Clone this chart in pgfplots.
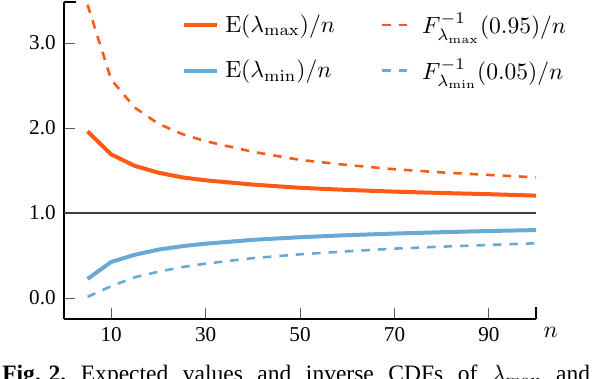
\documentclass[border=0pt]{standalone}
\usepackage[no-math]{fontspec}
\setmainfont{Liberation Serif}
\usepackage{pgfplots}
\pgfplotsset{compat=1.18}
\usetikzlibrary{calc}
\definecolor{maxorange}{RGB}{255,90,20}
\definecolor{minblue}{RGB}{104,170,212}

\begin{document}
\begin{tikzpicture}
\begin{axis}[
  name=ax,
  scale only axis,
  width=200.9pt, height=134.9pt,
  xmin=0, xmax=100, ymin=-0.247, ymax=3.482,
  axis x line*=bottom, axis y line*=left,
  axis line style={black, line width=0.85pt},
  tick align=inside,
  major tick length=4.6pt,
  tick style={black!65, line width=0.4pt},
  xtick={10,30,50,70,90},
  ytick={0,1,2,3},
  yticklabel style={/pgf/number format/.cd, fixed, fixed zerofill, precision=1},
  /pgf/number format/assume math mode=true,
  tick label style={font=\small},
  clip mode=individual,
  legend columns=2,
  legend cell align=left,
  legend image code/.code={\draw[#1] (0pt,0pt) -- (14pt,0pt);},
  legend style={draw=none, fill=none, inner sep=0pt,
    at={(rel axis cs:0.25,0.985)}, anchor=north west,
    row sep=4pt,
    nodes={inner sep=2.5pt},
    /tikz/every even column/.append style={column sep=17pt}},
]
\addplot[forget plot, black!75, line width=0.5pt] coordinates {(0,1) (100,1)};
\addplot[maxorange, line width=1.7pt, line join=round] coordinates {
  (5,1.96) (10,1.69) (15,1.555) (20,1.475) (25,1.42) (30,1.385) (40,1.335)
  (50,1.297) (60,1.272) (70,1.252) (80,1.236) (90,1.222) (100,1.205)};
\addlegendentry{$\mathrm{E}(\lambda_{\max})/n$}
\addplot[maxorange, line width=1.1pt, dash pattern=on 3.6pt off 3.4pt] coordinates {
  (5,3.45) (10,2.57) (15,2.24) (20,2.05) (25,1.93) (30,1.845) (40,1.72)
  (50,1.625) (60,1.565) (70,1.515) (80,1.478) (90,1.448) (100,1.42)};
\addlegendentry{$F^{-1}_{\lambda_{\max}}(0.95)/n$}
\addplot[minblue, line width=1.7pt, line join=round] coordinates {
  (5,0.225) (10,0.425) (15,0.51) (20,0.57) (25,0.61) (30,0.64) (40,0.685)
  (50,0.716) (60,0.74) (70,0.759) (80,0.775) (90,0.789) (100,0.80)};
\addlegendentry{$\mathrm{E}(\lambda_{\min})/n$}
\addplot[minblue, line width=1.1pt, dash pattern=on 3.6pt off 3.4pt] coordinates {
  (5,0.015) (10,0.14) (15,0.245) (20,0.31) (25,0.365) (30,0.405) (40,0.47)
  (50,0.515) (60,0.55) (70,0.582) (80,0.605) (90,0.625) (100,0.645)};
\addlegendentry{$F^{-1}_{\lambda_{\min}}(0.05)/n$}
\end{axis}
% end caps of the axis lines
\draw[black, line width=0.85pt] (ax.north west) -- ++(5pt,0);
\draw[black, line width=0.85pt] (ax.south east) -- ++(0,5pt);
\node at ($(ax.south east)+(6.2pt,-5.5pt)$) {$n$};
\node[anchor=base west, inner sep=0pt] at ($(ax.south west)+(-26.4pt,-26.6pt)$)
  {\makebox[250pt][s]{\mbox{\textbf{Fig. 2.}} Expected values and inverse CDFs of $\lambda_{\max}$ and}};
\pgfresetboundingbox
\useasboundingbox ($(ax.south west)+(-27.2pt,-25.1pt)$) rectangle ($(ax.north east)+(24.6pt,0.85pt)$);
\end{tikzpicture}
\end{document}
